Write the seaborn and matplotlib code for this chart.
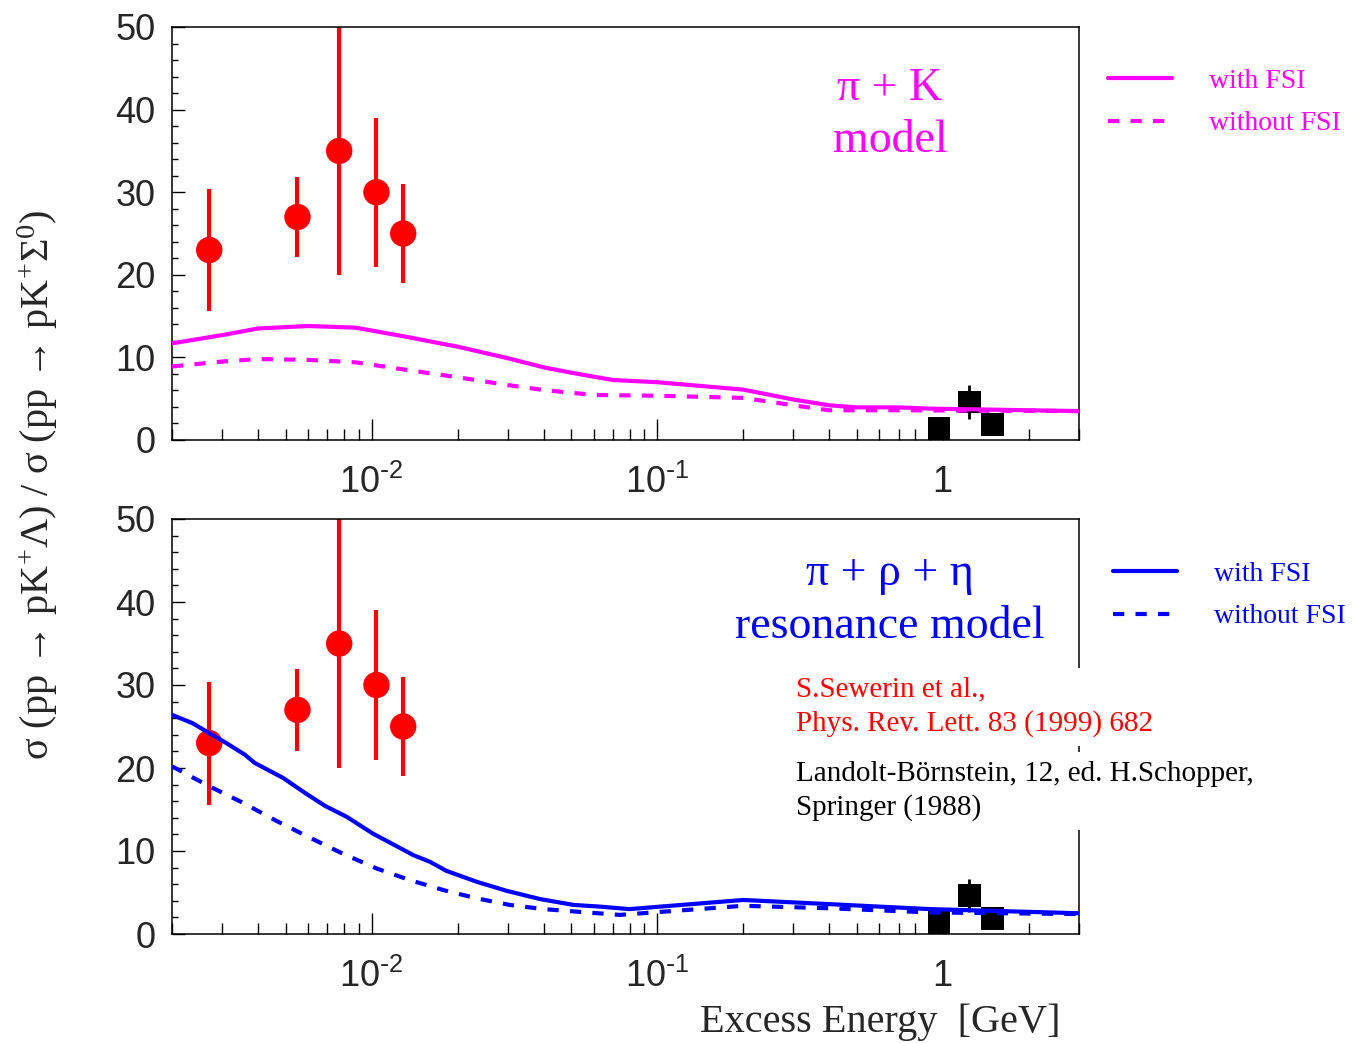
import numpy as np
import pandas as pd
import seaborn as sns
import matplotlib
matplotlib.use("Agg")
import matplotlib.pyplot as plt
from matplotlib.ticker import FixedLocator, FixedFormatter, LogLocator, MultipleLocator, NullFormatter

# ---------------- data ----------------
# pi + K model
E_k_fsi = [0.002, 0.003, 0.004, 0.006, 0.0088, 0.0132, 0.02, 0.03, 0.04, 0.05, 0.07, 0.1, 0.2, 0.3, 0.4, 0.5, 0.7, 0.9, 3.0]
k_fsi = [11.7, 12.7, 13.5, 13.8, 13.6, 12.5, 11.3, 9.9, 8.8, 8.15, 7.26, 7.0, 6.1, 4.9, 4.2, 3.95, 3.95, 3.8, 3.5]
E_k_nofsi = [0.002, 0.003, 0.004, 0.006, 0.0088, 0.0132, 0.02, 0.03, 0.04, 0.06, 0.1, 0.2, 0.3, 0.4, 0.7, 3.0]
k_nofsi = [8.9, 9.5, 9.8, 9.7, 9.4, 8.5, 7.6, 6.65, 6.05, 5.45, 5.36, 5.1, 4.2, 3.6, 3.6, 3.5]

# pi + rho + eta resonance model
E_r_fsi = [0.002, 0.00236, 0.0027, 0.0031, 0.0036, 0.0039, 0.0049, 0.0059, 0.0069, 0.0082, 0.0101,
           0.0119, 0.014, 0.016, 0.0183, 0.0233, 0.0297, 0.039, 0.051, 0.063, 0.08, 0.2, 0.4, 0.9, 3.0]
r_fsi = [26.4, 25.4, 24.2, 23.0, 21.6, 20.6, 18.8, 16.9, 15.4, 14.1, 12.1,
         10.8, 9.5, 8.7, 7.6, 6.3, 5.2, 4.2, 3.5, 3.3, 3.0, 4.1, 3.6, 3.0, 2.5]
E_r_nofsi = [0.002, 0.0027, 0.0035, 0.0046, 0.006, 0.0079, 0.0104, 0.0136, 0.0178, 0.0233, 0.0305,
             0.04, 0.052, 0.074, 0.2, 0.4, 0.9, 3.0]
r_nofsi = [20.2, 17.8, 15.9, 13.7, 11.7, 9.7, 7.9, 6.5, 5.3, 4.3, 3.5,
           3.0, 2.7, 2.3, 3.4, 3.1, 2.6, 2.4]

# experimental data: S.Sewerin et al.
E_exp = [0.0027, 0.0055, 0.0077, 0.0104, 0.0129]
ratio_exp = [23, 27, 35, 30, 25]
err_exp = [7.4, 4.9, 15, 9, 6]

# Landolt-Boernstein
E_lb = [0.97, 1.24, 1.49]
ratio_lb = [1.4, 4.6, 1.9]
err_lb = [0, 2.0, 0]

xtick_vals = [0.01, 0.1, 1]
xtick_labels = [r"10$^{\text{-}2}$", r"10$^{\text{-}1}$", "1"]
ytick_vals = [0, 10, 20, 30, 40, 50]

# ---------------- style ----------------
sns.set_style("ticks")
plt.rcParams["font.family"] = ["Liberation Sans", "DejaVu Sans"]
plt.rcParams["mathtext.fontset"] = "custom"
plt.rcParams["mathtext.default"] = "regular"
plt.rcParams["axes.unicode_minus"] = False
SERIF = ["Liberation Serif", "DejaVu Serif"]

MAG = "#ff00ff"
BLUE = "#0000ff"
RED = "#ff0000"

fig = plt.figure(figsize=(13.69, 10.43), dpi=100)
W, H = 1369, 1043
def axrect(l, t, r, b):
    return [l / W, 1 - b / H, (r - l) / W, (b - t) / H]

ax1 = fig.add_axes(axrect(172, 27, 1079, 440))
ax2 = fig.add_axes(axrect(172, 519, 1079, 934))

panels = [
    (ax1, E_k_fsi, k_fsi, E_k_nofsi, k_nofsi, MAG, ["π + K", "model"], (0.850, 0.724), 1.032, 0.900),
    (ax2, E_r_fsi, r_fsi, E_r_nofsi, r_nofsi, BLUE, ["π + ρ + η", "resonance model"], (0.868, 0.741), 1.0375, 0.898),
]

for ax, ex1, y1, ex0, y0, col, title, ty, lx, ly in panels:
    ax.set_xscale("log")
    # data points
    ax.errorbar(E_exp, ratio_exp, yerr=err_exp, fmt="none", ecolor=RED, elinewidth=3, capsize=0, zorder=2)
    sns.scatterplot(x=E_exp, y=ratio_exp, ax=ax, marker="o", s=19**2, color=RED, edgecolor="none",
                    linewidth=0, zorder=3, legend=False)
    ax.errorbar(E_lb, ratio_lb, yerr=err_lb, fmt="none", ecolor="black", elinewidth=2, capsize=0, zorder=2)
    sns.scatterplot(x=E_lb, y=ratio_lb, ax=ax, marker="s", s=16.5**2, color="black", edgecolor="none",
                    linewidth=0, zorder=3, legend=False)
    # model curves
    sns.lineplot(x=ex1, y=y1, ax=ax, color=col, lw=3, estimator=None, sort=False,
                 label="with FSI", zorder=5)
    sns.lineplot(x=ex0, y=y0, ax=ax, color=col, lw=3, estimator=None, sort=False,
                 linestyle=(0, (2.7, 2.7)), label="without FSI", zorder=5)

    ax.set_xlim(0.002, 3.0)
    ax.set_ylim(0, 50)
    ax.set_xlabel("")
    ax.set_ylabel("")

    ax.xaxis.set_major_locator(FixedLocator(xtick_vals))
    ax.xaxis.set_major_formatter(FixedFormatter(xtick_labels))
    ax.xaxis.set_minor_locator(LogLocator(base=10, subs=np.arange(2, 10), numticks=20))
    ax.xaxis.set_minor_formatter(NullFormatter())
    ax.yaxis.set_major_locator(FixedLocator(ytick_vals))
    ax.yaxis.set_minor_locator(MultipleLocator(2))

    ax.tick_params(axis="both", which="both", direction="in", top=False, right=False, width=1.0, color="black")
    ax.tick_params(axis="x", which="major", length=15, pad=18, labelsize=26)
    ax.tick_params(axis="x", which="minor", length=8)
    ax.tick_params(axis="y", which="major", length=9, pad=12, labelsize=26)
    ax.tick_params(axis="y", which="minor", length=4.5)
    for s in ax.spines.values():
        s.set_visible(True)
        s.set_color("black")
        s.set_linewidth(1.1)

    # model title
    ax.text(0.7916, ty[0], title[0], transform=ax.transAxes, ha="center", va="center",
            fontsize=33, color=col, family=SERIF)
    ax.text(0.7916, ty[1], title[1], transform=ax.transAxes, ha="center", va="center",
            fontsize=33, color=col, family=SERIF)

    # legend
    handles, labels = ax.get_legend_handles_labels()
    ax.legend(handles, labels, loc="upper left", bbox_to_anchor=(lx, ly), frameon=False,
              borderpad=0, borderaxespad=0, handlelength=2.3, handletextpad=1.35,
              labelspacing=0.62, labelcolor="linecolor",
              prop={"family": SERIF, "size": 20})

# references
fig.text(796 / W, 1 - 707 / H, "S.Sewerin et al.,\nPhys. Rev. Lett. 83 (1999) 682", color=RED,
         fontsize=21, family=SERIF, ha="left", va="center", linespacing=1.38,
         bbox=dict(boxstyle="square,pad=0.3", facecolor="white", edgecolor="none"), zorder=10)
fig.text(796 / W, 1 - 791 / H, "Landolt-Börnstein, 12, ed. H.Schopper,\nSpringer (1988)", color="black",
         fontsize=21, family=SERIF, ha="left", va="center", linespacing=1.38,
         bbox=dict(boxstyle="square,pad=0.3", facecolor="white", edgecolor="none"), zorder=10)

# axis labels
fig.text(1060 / W, 1 - 1022 / H, "Excess Energy  [GeV]", fontsize=29, family=SERIF, ha="right", va="center")
fig.text(38 / W, 1 - 485 / H, "σ (pp → p$K^{+}$Λ) / σ (pp → p$K^{+}Σ^{0}$)", fontsize=29,
         family=SERIF, rotation=90, ha="center", va="center")

fig.savefig("out.png", dpi=100, facecolor="white")
